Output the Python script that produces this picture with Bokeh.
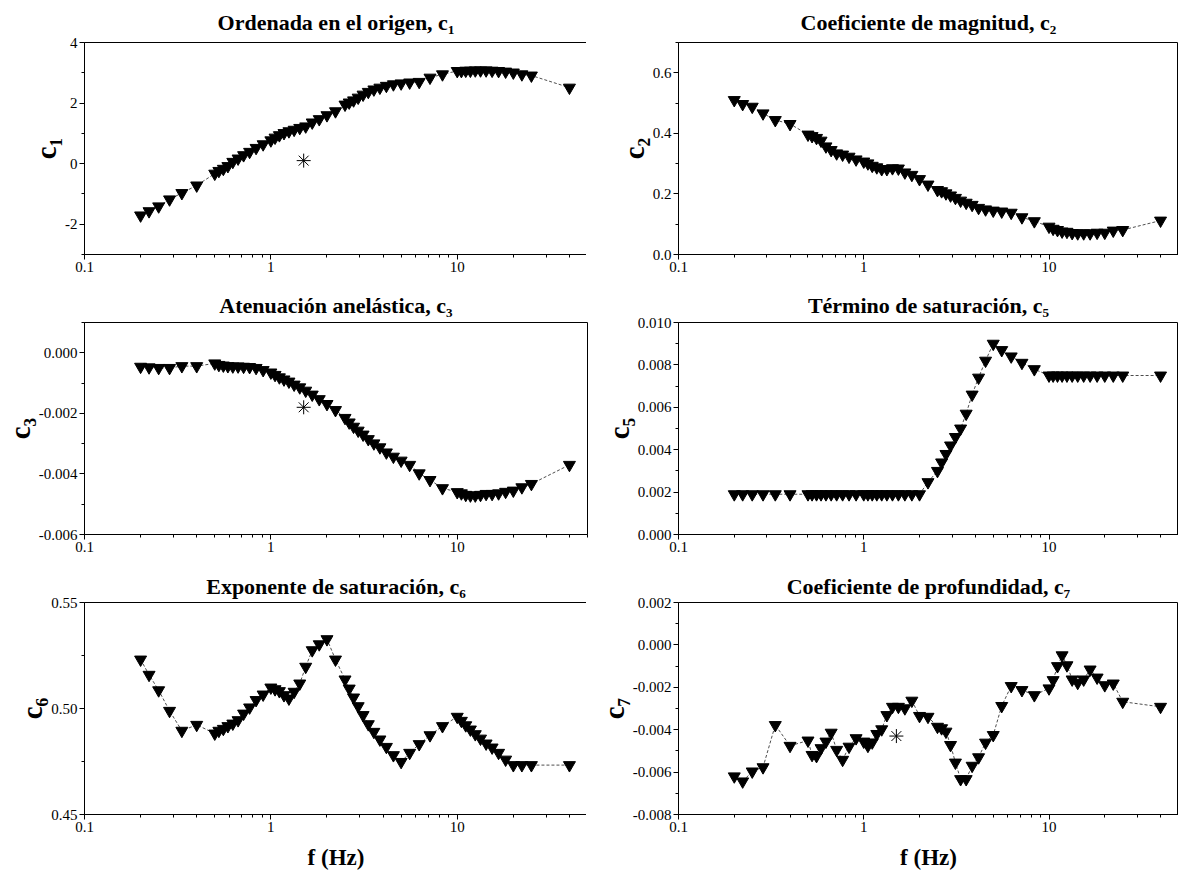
from bokeh.plotting import figure
from bokeh.layouts import gridplot
from bokeh.models import FixedTicker, CustomJSTickFormatter, Range1d
from bokeh.embed import file_html
from bokeh.resources import INLINE

# ---------------- data ----------------
freq = [0.2, 0.222, 0.25, 0.286, 0.333, 0.4, 0.5, 0.526, 0.556, 0.588, 0.625, 0.667,
        0.714, 0.769, 0.833, 0.909, 1.0, 1.053, 1.111, 1.176, 1.25, 1.333, 1.429,
        1.538, 1.667, 1.818, 2.0, 2.222, 2.5, 2.632, 2.778, 2.941, 3.125, 3.333,
        3.571, 3.846, 4.167, 4.545, 5.0, 5.556, 6.25, 7.143, 8.333, 10.0, 10.526,
        11.111, 11.765, 12.5, 13.333, 14.286, 15.385, 16.667, 18.182, 20.0, 22.222,
        25.0, 40.0]

c1 = [-1.71, -1.57, -1.41, -1.18, -0.97, -0.72, -0.33, -0.24, -0.17, -0.08, 0.06, 0.17,
      0.28, 0.39, 0.52, 0.64, 0.77, 0.86, 0.94, 1.01, 1.07, 1.12, 1.18,
      1.23, 1.36, 1.47, 1.60, 1.73, 1.95, 2.02, 2.09, 2.18, 2.28, 2.37,
      2.45, 2.51, 2.57, 2.62, 2.65, 2.68, 2.70, 2.84, 2.95, 3.06, 3.06,
      3.07, 3.07, 3.08, 3.08, 3.08, 3.07, 3.06, 3.04, 3.01, 2.95,
      2.91, 2.51]

c2 = [0.510, 0.497, 0.488, 0.466, 0.444, 0.431, 0.396, 0.391, 0.385, 0.376, 0.357, 0.345,
      0.334, 0.330, 0.323, 0.314, 0.307, 0.301, 0.293, 0.288, 0.282, 0.282, 0.285,
      0.284, 0.271, 0.263, 0.249, 0.231, 0.213, 0.209, 0.202, 0.195, 0.187, 0.178,
      0.171, 0.164, 0.154, 0.149, 0.145, 0.142, 0.138, 0.123, 0.110, 0.092, 0.085,
      0.081, 0.076, 0.075, 0.071, 0.070, 0.070, 0.070, 0.072, 0.072, 0.079,
      0.081, 0.112]

c3 = [-0.00046, -0.00048, -0.00050, -0.00050, -0.00044, -0.00044, -0.00035, -0.00040,
      -0.00042, -0.00044, -0.00045, -0.00045, -0.00046, -0.00047, -0.00050, -0.00057,
      -0.00065, -0.00073, -0.00081, -0.00088, -0.00095, -0.00105, -0.00114, -0.00125,
      -0.00138, -0.00153, -0.00169, -0.00189, -0.00215, -0.00230, -0.00244, -0.00257,
      -0.00270, -0.00285, -0.00299, -0.00312, -0.00329, -0.00343, -0.00356, -0.00370,
      -0.00398, -0.00420, -0.00447, -0.00460, -0.00464, -0.00469, -0.00471, -0.00471,
      -0.00469, -0.00466, -0.00466, -0.00464, -0.00459, -0.00455, -0.00444, -0.00433,
      -0.00370]

c5 = [0.0019, 0.0019, 0.0019, 0.0019, 0.0019, 0.0019, 0.0019, 0.0019, 0.0019, 0.0019,
      0.0019, 0.0019, 0.0019, 0.0019, 0.0019, 0.0019, 0.0019, 0.0019, 0.0019, 0.0019,
      0.0019, 0.0019, 0.0019, 0.0019, 0.0019, 0.0019, 0.0019, 0.00247, 0.0030, 0.0034,
      0.0038, 0.0042, 0.0046, 0.0050, 0.0057, 0.0066, 0.0074, 0.0082, 0.0090, 0.0087,
      0.0084, 0.0081, 0.0078, 0.0075, 0.0075, 0.0075, 0.0075, 0.0075, 0.0075, 0.0075,
      0.0075, 0.0075, 0.0075, 0.0075, 0.0075, 0.0075, 0.0075]

c6 = [0.5231, 0.5159, 0.5086, 0.4989, 0.4895, 0.4923, 0.4882, 0.4895, 0.4904, 0.4917,
      0.4929, 0.4945, 0.4976, 0.5005, 0.5040, 0.5066, 0.5099, 0.5091, 0.5082, 0.5063,
      0.5047, 0.5079, 0.5118, 0.5197, 0.5275, 0.5303, 0.5327, 0.5231, 0.5137, 0.5094,
      0.5052, 0.5011, 0.4969, 0.4926, 0.4890, 0.4854, 0.4819, 0.4780, 0.4748, 0.4791,
      0.4832, 0.4874, 0.4917, 0.4961, 0.4942, 0.4921, 0.4901, 0.4879, 0.4858, 0.4835,
      0.4816, 0.4791, 0.4759, 0.4733, 0.4733, 0.4733, 0.4733]

c7 = [-0.00620, -0.00644, -0.00597, -0.00577, -0.00378, -0.00476, -0.00451, -0.00519,
      -0.00524, -0.00487, -0.00456, -0.00414, -0.00495, -0.00542, -0.00480, -0.00440,
      -0.00456, -0.00476, -0.00460, -0.00420, -0.00398, -0.00331, -0.00292, -0.00292,
      -0.00299, -0.00263, -0.00335, -0.00339, -0.00386, -0.00393, -0.00409, -0.00472,
      -0.00555, -0.00633, -0.00633, -0.00570, -0.00530, -0.00461, -0.00425, -0.00288,
      -0.00194, -0.00213, -0.00237, -0.00205, -0.00166, -0.00100, -0.00049, -0.00096,
      -0.00163, -0.00179, -0.00163, -0.00116, -0.00154, -0.00190, -0.00182, -0.00268,
      -0.00292]

ref_f = [1.5]
ref_c1 = [0.1]
ref_c3 = [-0.0018]
ref_c7 = [-0.0043]

titles = ["Ordenada en el origen, c\u2081", "Coeficiente de magnitud, c\u2082",
          "Atenuación anelástica, c\u2083", "Término de saturación, c\u2085",
          "Exponente de saturación, c\u2086", "Coeficiente de profundidad, c\u2087"]
ylabels = ["c\u2081", "c\u2082", "c\u2083", "c\u2085", "c\u2086", "c\u2087"]
yranges = [(-3, 4), (0, 0.7), (-0.006, 0.001), (0, 0.010), (0.45, 0.55), (-0.008, 0.002)]
yticks = [[-2, 0, 2, 4], [0.0, 0.2, 0.4, 0.6], [-0.006, -0.004, -0.002, 0.0],
          [0.0, 0.002, 0.004, 0.006, 0.008, 0.010], [0.45, 0.50, 0.55],
          [-0.008, -0.006, -0.004, -0.002, 0.0, 0.002]]
yminor = [[-3, -1, 1, 3], [0.1, 0.3, 0.5, 0.7], [-0.005, -0.003, -0.001, 0.001],
          [0.001, 0.003, 0.005, 0.007, 0.009], [0.475, 0.525],
          [-0.007, -0.005, -0.003, -0.001, 0.001]]
ydigits = [0, 1, 3, 3, 2, 3]
xticks = [0.1, 1, 10]
xminor = [0.2, 0.3, 0.4, 0.5, 0.6, 0.7, 0.8, 0.9, 2, 3, 4, 5, 6, 7, 8, 9, 20, 30, 40, 50]

series = [c1, c2, c3, c5, c6, c7]
refs = [ref_c1, None, ref_c3, None, None, ref_c7]

SERIF = "Liberation Serif"

rows_border = [(42, 31), (37, 30), (38, 58)]
title_standoff = [15, 10, 8]

figs = []
for i in range(6):
    r, col = divmod(i, 2)
    top, bottom = rows_border[r]
    p = figure(x_axis_type="log", output_backend="svg", toolbar_location=None,
               frame_width=503 if col == 0 else 500,
               frame_height=212,
               min_border_left=77 if col == 0 else 85,
               min_border_right=6 if col == 0 else 0,
               min_border_top=top, min_border_bottom=bottom,
               x_range=Range1d(0.1, 50), y_range=Range1d(*yranges[i]),
               title=titles[i])
    p.title.text_font = SERIF
    p.title.text_font_style = "bold"
    p.title.text_font_size = "22px"
    p.title.text_color = "black"
    p.title.align = "center"
    p.title.standoff = title_standoff[r]
    p.grid.visible = False
    p.outline_line_color = "black"
    p.outline_line_width = 1
    p.background_fill_color = "white"
    p.border_fill_color = "white"

    p.line(freq, series[i], line_color="black", line_width=0.7, line_dash="3 2")
    p.scatter(freq, series[i], marker="inverted_triangle", size=12,
              fill_color="black", line_color="black")
    if refs[i] is not None:
        p.scatter(ref_f, refs[i], marker="asterisk", size=14, line_color="black",
                  line_width=1)

    xa = p.xaxis[0]
    xa.ticker = FixedTicker(ticks=xticks, minor_ticks=xminor)
    xa.formatter = CustomJSTickFormatter(code="return String(tick);")
    ya = p.yaxis[0]
    ya.ticker = FixedTicker(ticks=yticks[i], minor_ticks=yminor[i])
    ya.formatter = CustomJSTickFormatter(code="return tick.toFixed(%d);" % ydigits[i])
    ya.axis_label = ylabels[i]
    ya.axis_label_text_font = SERIF
    ya.axis_label_text_font_style = "bold"
    ya.axis_label_text_font_size = "29px"
    ya.axis_label_text_color = "black"
    ya.axis_label_standoff = 0
    if r == 2:
        xa.axis_label = "f (Hz)"
        xa.axis_label_text_font = SERIF
        xa.axis_label_text_font_style = "bold"
        xa.axis_label_text_font_size = "23px"
        xa.axis_label_text_color = "black"
        xa.axis_label_standoff = 10
    for ax in (xa, ya):
        ax.major_label_text_font = SERIF
        ax.major_label_text_font_size = "15px"
        ax.major_label_text_color = "black"
        ax.axis_line_color = "black"
        ax.major_tick_line_color = "black"
        ax.minor_tick_line_color = "black"
        ax.major_tick_out = 5
        ax.major_tick_in = 0
        ax.minor_tick_out = 3
        ax.minor_tick_in = 0
        ax.major_label_standoff = 2
    figs.append(p)

grid = gridplot([[figs[0], figs[1]], [figs[2], figs[3]], [figs[4], figs[5]]],
                toolbar_location=None)

open("out.html", "w").write(file_html(grid, INLINE))
